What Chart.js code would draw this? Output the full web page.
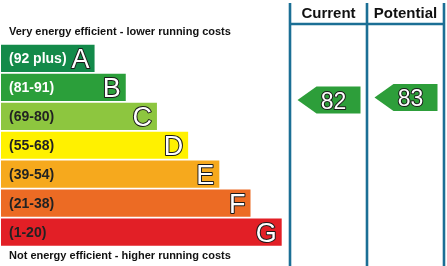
<!DOCTYPE html>
<html>
<head>
<meta charset="utf-8">
<script src="https://cdn.jsdelivr.net/npm/chart.js@4"></script>
<style>
  body { margin: 0; background: #fff; }
  canvas { display: block; }
</style>
</head>
<body>
<canvas id="epc" width="447" height="266"></canvas>
<script>
// band data, top (best) to bottom (worst)
const bands = ['A', 'B', 'C', 'D', 'E', 'F', 'G'];
const ranges = ['(92 plus)', '(81-91)', '(69-80)', '(55-68)', '(39-54)', '(21-38)', '(1-20)'];
const bandLengths = [3, 4, 5, 6, 7, 8, 9];
const bandColors = ['#138a4a', '#2b9f3a', '#8dc63f', '#fff100', '#f6a91d', '#ec6b24', '#e21f26'];
const rangeColors = ['#fff', '#fff', '#222', '#222', '#222', '#222', '#222'];

// ratings shown in the right hand columns
const columns = ['Current', 'Potential'];
const ratings = [82, 83];
const ratingColors = ['#2d9e3a', '#2d9e3a'];

const lineColor = '#1b6f95';
const font = '"Liberation Sans", Arial, sans-serif';

const epcPanel = {
    id: 'epcPanel',
    afterDatasetsDraw(chart) {
        const ctx = chart.ctx;
        const meta = chart.getDatasetMeta(0);
        ctx.save();

        // range text and big letter on every band
        meta.data.forEach((bar, i) => {
            ctx.textBaseline = 'middle';
            ctx.textAlign = 'left';
            ctx.font = 'bold 14px ' + font;
            ctx.fillStyle = rangeColors[i];
            ctx.fillText(ranges[i], 9, bar.y + 1);

            ctx.textBaseline = 'alphabetic';
            ctx.textAlign = 'right';
            ctx.font = '27px ' + font;
            ctx.lineJoin = 'round';
            ctx.lineWidth = 2;
            ctx.strokeStyle = '#1a1a1a';
            ctx.fillStyle = '#fff';
            ctx.strokeText(bands[i], bar.x - 5, bar.y + 9.8);
            ctx.fillText(bands[i], bar.x - 5, bar.y + 9.8);
        });

        // top and bottom captions
        ctx.textAlign = 'left';
        ctx.textBaseline = 'middle';
        ctx.fillStyle = '#111';
        ctx.font = 'bold 11px ' + font;
        ctx.fillText('Very energy efficient - lower running costs', 9, 32);
        ctx.fillText('Not energy efficient - higher running costs', 9, 256);

        // column frame
        const colX = [290, 367, 444];
        ctx.strokeStyle = lineColor;
        ctx.lineWidth = 2.6;
        colX.forEach(x => {
            ctx.beginPath();
            ctx.moveTo(x, 3);
            ctx.lineTo(x, 266);
            ctx.stroke();
        });
        ctx.beginPath();
        ctx.moveTo(colX[0], 24);
        ctx.lineTo(colX[2], 24);
        ctx.stroke();

        // column headers and arrows
        const score = chart.scales.score;
        columns.forEach((name, i) => {
            const cx = (colX[i] + colX[i + 1]) / 2;
            ctx.textAlign = 'center';
            ctx.textBaseline = 'middle';
            ctx.fillStyle = '#111';
            ctx.font = 'bold 15px ' + font;
            ctx.fillText(name, cx, 13.5);

            const y = score.getPixelForValue(ratings[i]);
            const left = cx - 31, right = cx + 32, h = 13.5;
            ctx.beginPath();
            ctx.moveTo(left, y);
            ctx.lineTo(left + 19, y - h);
            ctx.lineTo(right, y - h);
            ctx.lineTo(right, y + h);
            ctx.lineTo(left + 19, y + h);
            ctx.closePath();
            ctx.fillStyle = ratingColors[i];
            ctx.fill();

            ctx.textBaseline = 'alphabetic';
            ctx.font = '23px ' + font;
            ctx.lineWidth = 2;
            ctx.strokeStyle = '#1a1a1a';
            ctx.fillStyle = '#fff';
            ctx.strokeText(String(ratings[i]), cx + 5, y + 8.5);
            ctx.fillText(String(ratings[i]), cx + 5, y + 8.5);
        });
        ctx.restore();
    }
};

new Chart(document.getElementById('epc'), {
    type: 'bar',
    data: {
        labels: bands,
        datasets: [{
            data: bandLengths,
            backgroundColor: bandColors,
            borderWidth: 0,
            barPercentage: 0.94,
            categoryPercentage: 1
        }]
    },
    options: {
        indexAxis: 'y',
        responsive: false,
        animation: false,
        devicePixelRatio: 1,
        layout: { padding: { top: 44, bottom: 19.5, left: 1, right: 0 } },
        plugins: { legend: { display: false }, tooltip: { enabled: false } },
        scales: {
            x: { type: 'linear', min: 0, max: 14.3, display: false },
            y: { type: 'category', display: false },
            score: { type: 'linear', axis: 'y', position: 'left', min: 31.2, max: 98.5, display: false }
        }
    },
    plugins: [epcPanel]
});
</script>
</body>
</html>
